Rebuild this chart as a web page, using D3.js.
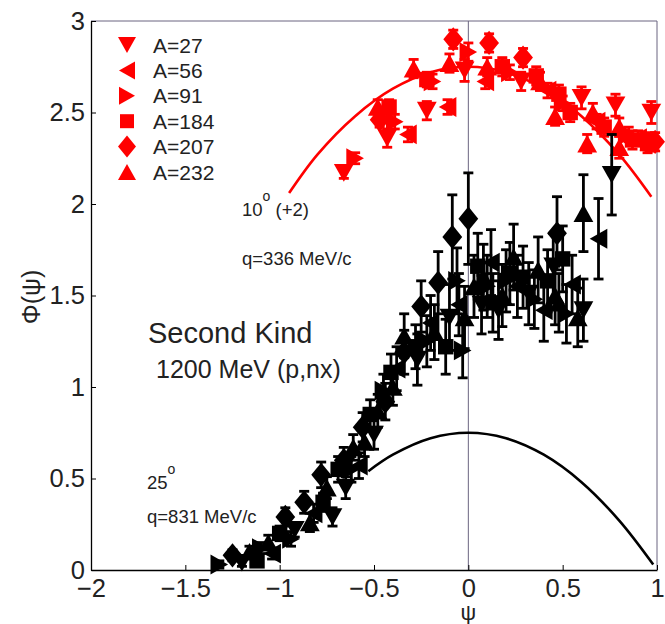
<!DOCTYPE html>
<html>
<head>
<meta charset="utf-8">
<script src="https://cdn.jsdelivr.net/npm/d3@7"></script>
<style>
  html,body{margin:0;padding:0;background:#fff;}
  svg{display:block;font-family:"Liberation Sans",Arial,Helvetica,sans-serif;}
</style>
</head>
<body>
<svg id="chart" width="665" height="624"></svg>
<script>
// ===== data =====
const xTicks = [-2, -1.5, -1, -0.5, 0, 0.5, 1];
const yTicks = [0, 0.5, 1, 1.5, 2, 2.5, 3];
const xTickLabels = ["\u22122", "\u22121.5", "\u22121", "\u22120.5", "0", "0.5", "1"];
const yTickLabels = ["0", "0.5", "1", "1.5", "2", "2.5", "3"];

const nuclei = ["A=27", "A=56", "A=91", "A=184", "A=207", "A=232"];
const shapes = ["down", "left", "right", "square", "diamond", "up"];

// scaling curves [psi, phi]
const curve10 = [[-0.95,2.06],[-0.8,2.27],[-0.6,2.48],[-0.4,2.63],[-0.2,2.72],[0,2.75],
                 [0.2,2.72],[0.4,2.63],[0.6,2.48],[0.8,2.27],[0.97,2.04]];
const curve25 = [[-0.53,0.54],[-0.4,0.63],[-0.2,0.72],[0,0.75],[0.2,0.72],[0.4,0.63],
                 [0.6,0.48],[0.8,0.27],[0.98,0.03]];

// 10 deg (+2) data, [psi, phi, err]
const red27  = [[-0.66,2.17,0.03],[-0.43,2.36,0.05],[-0.22,2.51,0.05],[-0.02,2.73,0.06],[0.28,2.67,0.05],
                [0.60,2.58,0.06],[0.78,2.54,0.06],[0.97,2.50,0.06]];
const red56  = [[-0.32,2.38,0.04],[-0.11,2.53,0.04],[0.09,2.67,0.04],[0.42,2.62,0.04],[0.68,2.45,0.04],[0.90,2.36,0.04]];
const red91  = [[-0.60,2.25,0.03],[-0.39,2.45,0.04],[-0.19,2.67,0.04],[0.0,2.83,0.05],[0.22,2.72,0.04],
                [0.50,2.55,0.04],[0.85,2.38,0.04]];
const red184 = [[-0.42,2.53,0.04],[-0.22,2.68,0.04],[0.18,2.75,0.05],[0.36,2.70,0.05],[0.48,2.60,0.05],
                [0.54,2.50,0.05],[0.72,2.42,0.05],[0.87,2.35,0.05],[0.95,2.33,0.05]];
const red207 = [[-0.47,2.46,0.04],[-0.08,2.90,0.05],[0.11,2.88,0.05],[0.29,2.80,0.05],[0.99,2.34,0.05]];
const red232 = [[-0.48,2.53,0.04],[-0.29,2.74,0.05],[-0.10,2.77,0.05],[0.10,2.75,0.05],[0.38,2.67,0.05],
                [0.46,2.48,0.05],[0.63,2.33,0.05],[0.66,2.50,0.05],[0.80,2.42,0.05],[0.80,2.31,0.06],[0.96,2.34,0.05]];

// 25 deg data, [psi, phi, err]
const blk27  = [[-1.20,0.04,0.02],[-0.92,0.22,0.04],[-0.72,0.29,0.05],[-0.65,0.45,0.06],[-0.50,0.74,0.08],
                [-0.27,1.15,0.14],[-0.10,1.38,0.18],[0.07,1.45,0.16],[0.16,1.42,0.16],[0.32,1.51,0.17],
                [0.45,1.66,0.18],[0.61,1.42,0.17],[0.76,2.16,0.22]];
const blk56  = [[-1.04,0.09,0.03],[-0.82,0.31,0.05],[-0.58,0.57,0.07],[-0.38,1.10,0.12],[-0.20,1.35,0.15],
                [-0.05,1.45,0.17],[0.12,1.68,0.18],[0.26,1.55,0.17],[0.40,1.42,0.17],
                [0.55,1.56,0.16],[0.69,1.81,0.22]];
const blk91  = [[-1.32,0.03,0.02],[-1.10,0.12,0.03],[-0.94,0.17,0.04],[-0.62,0.55,0.07],[-0.45,0.98,0.09],
                [-0.22,1.25,0.14],[-0.06,1.58,0.18],[-0.03,1.20,0.15],[0.10,1.55,0.17],
                [0.20,1.58,0.17],[0.35,1.48,0.16],[0.52,1.40,0.16]];
const blk184 = [[-1.12,0.05,0.03],[-1.00,0.20,0.04],[-0.77,0.37,0.05],[-0.69,0.55,0.07],[-0.52,0.85,0.08],
                [-0.41,1.08,0.10],[-0.28,1.22,0.12],[-0.12,1.22,0.15],[0.05,1.66,0.18],[0.13,1.46,0.16],
                [0.22,1.62,0.17],[0.29,1.60,0.17],[0.42,1.58,0.17],[0.50,1.70,0.18]];
const blk207 = [[-1.25,0.08,0.03],[-0.97,0.29,0.05],[-0.87,0.37,0.06],[-0.78,0.52,0.07],[-0.66,0.60,0.07],
                [-0.56,0.78,0.08],[-0.44,0.92,0.10],[-0.34,1.19,0.12],[-0.25,1.44,0.14],[-0.16,1.57,0.17],
                [-0.085,1.82,0.23],[0.0,1.92,0.25],[0.47,1.84,0.2]];
const blk232 = [[-1.16,0.10,0.03],[-1.06,0.15,0.04],[-0.84,0.26,0.05],[-0.75,0.45,0.06],[-0.61,0.67,0.07],
                [-0.55,0.70,0.08],[-0.48,0.87,0.09],[-0.40,1.00,0.10],[-0.34,1.28,0.12],[-0.18,1.30,0.15],
                [-0.02,1.38,0.17],[0.03,1.55,0.17],[0.08,1.60,0.18],[0.18,1.50,0.17],[0.24,1.71,0.18],
                [0.37,1.64,0.18],[0.46,1.50,0.16],[0.48,1.46,0.16],[0.58,1.38,0.16],[0.61,1.95,0.21]];

const redSets = [red27, red56, red91, red184, red207, red232];
const blkSets = [blk27, blk56, blk91, blk184, blk207, blk232];

// ===== chart setup =====
const svg = d3.select("#chart");
const M = {top:21, right:8, bottom:54, left:91};
const W = 665, H = 624;

const x = d3.scaleLinear().domain([-2, 1]).range([M.left, W - M.right]);
const y = d3.scaleLinear().domain([0, 3]).range([H - M.bottom, M.top]);

const RED = "#ff0000", INK = "#000000", TXT = "#222222", FRAME = "#6a6480";

function shapePath(s, k){
  k = k || 1;
  const p = {
    down:    [[-9,-8],[9,-8],[0,8]],
    up:      [[-9,8],[9,8],[0,-8]],
    left:    [[8,-9],[8,9],[-8,0]],
    right:   [[-8,-9],[-8,9],[8,0]],
    square:  [[-7,-7],[7,-7],[7,7],[-7,7]],
    diamond: [[0,-11],[9,0],[0,11],[-9,0]]
  }[s];
  return "M" + p.map(q => (q[0]*k) + "," + (q[1]*k)).join("L") + "Z";
}

// frame: thin top / right lines and the psi=0 line
svg.append("line").attr("x1", x(-2)).attr("x2", x(1)).attr("y1", y(3)).attr("y2", y(3))
  .attr("stroke", FRAME).attr("stroke-width", 1);
svg.append("line").attr("x1", x(1)).attr("x2", x(1)).attr("y1", y(0)).attr("y2", y(3))
  .attr("stroke", FRAME).attr("stroke-width", 1);
svg.append("line").attr("x1", x(0)).attr("x2", x(0)).attr("y1", y(0)).attr("y2", y(3))
  .attr("stroke", FRAME).attr("stroke-width", 1);

// axes
const gx = svg.append("g")
  .attr("transform", `translate(0,${y(0)})`)
  .call(d3.axisBottom(x).tickValues(xTicks).tickSizeInner(-5).tickSizeOuter(0)
    .tickPadding(9).tickFormat((d,i) => xTickLabels[i]));
const gy = svg.append("g")
  .attr("transform", `translate(${x(-2)},0)`)
  .call(d3.axisLeft(y).tickValues(yTicks).tickSizeInner(-5).tickSizeOuter(0)
    .tickPadding(6).tickFormat((d,i) => yTickLabels[i]));
[gx, gy].forEach(g => {
  g.select(".domain").attr("stroke", INK).attr("stroke-width", 1.3);
  g.selectAll(".tick line").attr("stroke", INK).attr("stroke-width", 1);
  g.selectAll(".tick text").attr("fill", TXT).attr("font-size", "25.5px")
    .attr("font-family", "Liberation Sans, Arial, sans-serif");
});
gx.selectAll(".tick text").attr("dy", "0.71em");
gy.selectAll(".tick text").attr("dy", "0.32em");

// axis labels
svg.append("text").attr("x", x(0)).attr("y", 620).attr("text-anchor", "middle")
  .attr("fill", TXT).attr("font-size", "22px").text("\u03c8");
svg.append("text").attr("transform", "translate(40,297) rotate(-90)").attr("text-anchor", "middle")
  .attr("fill", TXT).attr("font-size", "25px").text("\u03a6(\u03c8)");

// curves
const line = d3.line().x(d => x(d[0])).y(d => y(d[1])).curve(d3.curveCatmullRom);
svg.append("path").attr("d", line(curve10)).attr("fill", "none").attr("stroke", RED).attr("stroke-width", 2.6);

function drawSet(g, data, shape, color){
  const pts = g.append("g");
  data.forEach(d => {
    const cx = x(d[0]), y1 = y(d[1] + d[2]), y2 = y(d[1] - d[2]);
    pts.append("line").attr("x1", cx).attr("x2", cx).attr("y1", y1).attr("y2", y2)
      .attr("stroke", color).attr("stroke-width", 2.8);
    [y1, y2].forEach(yy => pts.append("line").attr("x1", cx - 5).attr("x2", cx + 5)
      .attr("y1", yy).attr("y2", yy).attr("stroke", color).attr("stroke-width", 2.8));
    pts.append("path").attr("d", shapePath(shape, 1.1)).attr("transform", `translate(${cx},${y(d[1])})`)
      .attr("fill", color);
  });
}

const redG = svg.append("g");
redSets.forEach((s, i) => drawSet(redG, s, shapes[i], RED));

svg.append("path").attr("d", line(curve25)).attr("fill", "none").attr("stroke", INK).attr("stroke-width", 2.6);

const blkG = svg.append("g");
blkSets.forEach((s, i) => drawSet(blkG, s, shapes[i], INK));

// legend
const leg = svg.append("g");
nuclei.forEach((n, i) => {
  const ly = 45 + i * 25.4;
  leg.append("path").attr("d", shapePath(shapes[i])).attr("transform", `translate(127,${ly})`).attr("fill", RED);
  leg.append("text").attr("x", 153).attr("y", ly).attr("dy", "0.36em").attr("fill", TXT)
    .attr("font-size", "21px").text(n);
});

// annotations
function degLabel(tx, ty, num, rest){
  const t = svg.append("text").attr("x", tx).attr("y", ty).attr("fill", TXT).attr("font-size", "18.5px");
  t.append("tspan").text(num);
  t.append("tspan").attr("dy", -15).attr("font-size", "14px").text("o");
  if (rest) t.append("tspan").attr("dy", 15).text(rest);
}
degLabel(242, 216, "10", " (+2)");
svg.append("text").attr("x", 242).attr("y", 265).attr("fill", TXT).attr("font-size", "18.5px").text("q=336 MeV/c");
svg.append("text").attr("x", 148).attr("y", 343).attr("fill", TXT).attr("font-size", "29px").text("Second Kind");
svg.append("text").attr("x", 156).attr("y", 378).attr("fill", TXT).attr("font-size", "25px").text("1200 MeV (p,nx)");
degLabel(147, 489, "25", null);
svg.append("text").attr("x", 147).attr("y", 523).attr("fill", TXT).attr("font-size", "18.5px").text("q=831 MeV/c");
</script>
</body>
</html>
